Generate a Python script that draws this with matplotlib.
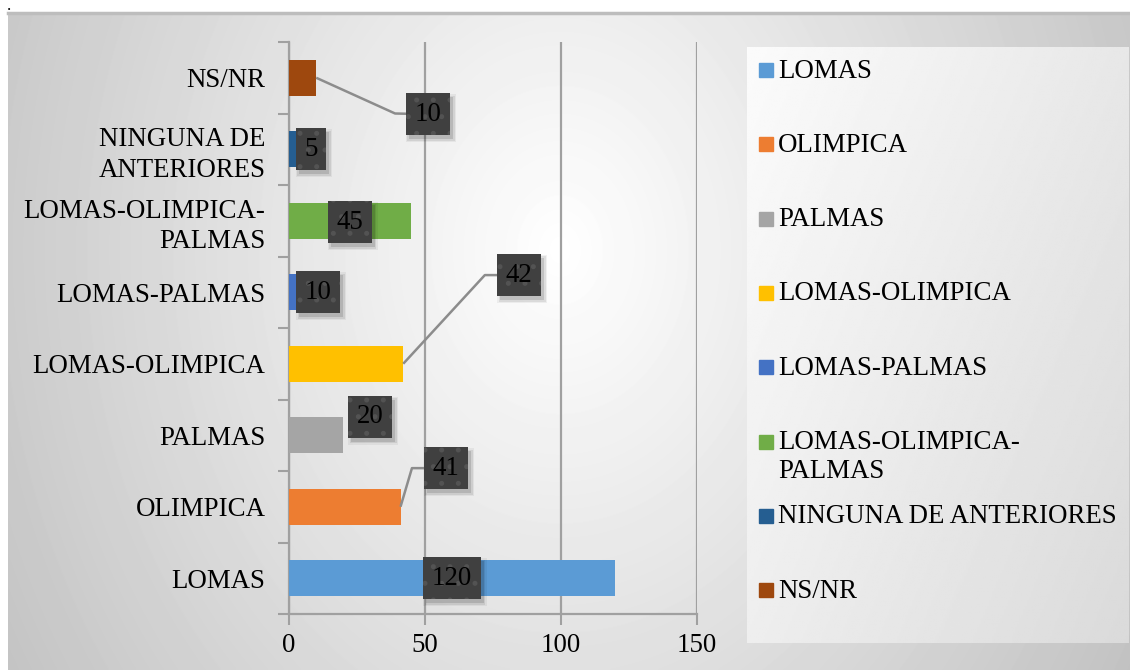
import numpy as np
import matplotlib
matplotlib.use("Agg")
import matplotlib.pyplot as plt
from matplotlib.patches import Rectangle

plt.rcParams["font.family"] = ["Liberation Serif", "DejaVu Serif"]
plt.rcParams["hatch.linewidth"] = 1.2

# bars, bottom to top
categories = ["LOMAS", "OLIMPICA", "PALMAS", "LOMAS-OLIMPICA", "LOMAS-PALMAS",
              "LOMAS-OLIMPICA-\nPALMAS", "NINGUNA DE\nANTERIORES", "NS/NR"]
legend_names = ["LOMAS", "OLIMPICA", "PALMAS", "LOMAS-OLIMPICA", "LOMAS-PALMAS",
                "LOMAS-OLIMPICA-\nPALMAS", "NINGUNA DE ANTERIORES", "NS/NR"]
values = [120, 41, 20, 42, 10, 45, 5, 10]
colors = ["#5B9BD5", "#ED7D31", "#A5A5A5", "#FFC000", "#4472C4",
          "#70AD47", "#255E91", "#9E480E"]

# where each value label box sits (data coords); some get a leader line with a knee
label_pos = [(60, 0.0), (57.7, 1.54), (29.8, 2.26), (84.6, 4.24), (10.7, 4.0),
             (22.4, 4.98), (8.1, 6.0), (51.1, 6.49)]
leader = {1: (45.2, 1.54), 3: (72.0, 4.24), 7: (39.0, 6.5)}

FS = 19.4
W, H = 1130, 670
fig = plt.figure(figsize=(W / 100, H / 100), dpi=100)
fig.patch.set_facecolor("white")

# chart-area background: soft radial gray gradient
bg = fig.add_axes([8 / W, 0, 1 - 8 / W, (H - 12) / H])
bg.set_axis_off()
yy, xx = np.mgrid[12:H, 8:W]
r = np.sqrt(((xx - 560) / 550.0) ** 2 + ((yy - 250) / 700.0) ** 2)
shade = np.clip(1 - 0.2 * r, 0, 1)
bg.imshow(shade, cmap="gray", vmin=0, vmax=1, aspect="auto",
          extent=[0, 1, 0, 1], interpolation="bilinear")
bg.set_xlim(0, 1)
bg.set_ylim(0, 1)
fig.add_artist(plt.Line2D([8 / W, 1], [(H - 13) / H] * 2, color="#bdbdbd", lw=2.5))
fig.text(9 / W, 1 - 6 / H, ".", fontsize=12, ha="center", va="center")

# legend panel
lg = fig.add_axes([747 / W, (H - 643) / H, 382 / W, 596 / H])
lg.set_axis_off()
gy, gx = np.mgrid[0:1:200j, 0:1:200j]
lshade = 0.985 - 0.13 * (0.6 * gx + 0.4 * gy)
lg.imshow(lshade, cmap="gray", vmin=0, vmax=1, aspect="auto",
          extent=[0, 382, 0, 596], origin="lower", interpolation="bilinear")
lg.set_xlim(0, 382)
lg.set_ylim(596, 0)
for i, (name, c) in enumerate(zip(legend_names, colors)):
    yc = 70 - 47 + i * 74.3
    lg.add_patch(Rectangle((12, yc - 7), 14, 14, color=c))
    for k, line in enumerate(name.split("\n")):
        lg.text(31, yc + 1 + 29 * k, line, fontsize=FS, va="center", ha="left")

# main plot
ax = fig.add_axes([289 / W, (H - 614) / H, 408 / W, 572 / H])
ax.set_facecolor("none")
y = np.arange(len(categories))
ax.barh(y, values, height=0.5, color=colors, zorder=3)
ax.set_xlim(0, 150)
ax.set_ylim(-0.5, 7.5)
ax.set_xticks([0, 50, 100, 150])
ax.set_yticks(y)
ax.set_yticklabels(categories, fontsize=FS, linespacing=1.3)
ax.set_yticks(np.arange(-0.5, 8, 1), minor=True)
ax.tick_params(axis="y", which="major", length=0, pad=17)
ax.tick_params(axis="y", which="minor", length=8, width=1.5, color="#a0a0a0")
ax.tick_params(axis="x", length=8, width=1.5, color="#a0a0a0", labelsize=FS, pad=6)
ax.grid(axis="x", color="#a0a0a0", lw=1.6, zorder=1)
for s in ["top", "right"]:
    ax.spines[s].set_visible(False)
for s in ["left", "bottom"]:
    ax.spines[s].set_color("#a0a0a0")
    ax.spines[s].set_linewidth(1.6)

# leader lines and value labels
boxes = []
for i, v in enumerate(values):
    lx, ly = label_pos[i]
    if i in leader:
        kx, ky = leader[i]
        ax.plot([v, kx, lx], [i, ky, ly], color="#8c8c8c", lw=1.8, zorder=4,
                solid_capstyle="butt")
    t = ax.text(lx, ly, str(v), ha="center", va="center", fontsize=FS, color="black",
                zorder=6,
                bbox=dict(boxstyle="square,pad=0.32", fc="#404040", ec="#535353",
                          lw=0, hatch="."))
    boxes.append(t)

# drop shadows behind the label boxes, sized from the drawn boxes
fig.canvas.draw()
inv = ax.transData.inverted()
for t in boxes:
    ext = t.get_bbox_patch().get_window_extent()
    for grow, a in [(3, 0.05), (1.5, 0.08), (0, 0.12)]:
        (x0, y0), (x1, y1) = inv.transform([(ext.x0 + 3 - grow, ext.y0 - 4 - grow),
                                            (ext.x1 + 3 + grow, ext.y1 - 4 + grow)])
        ax.add_patch(Rectangle((x0, y0), x1 - x0, y1 - y0, fc="black", ec="none",
                               alpha=a, zorder=5))

fig.savefig("out.png", dpi=100)
